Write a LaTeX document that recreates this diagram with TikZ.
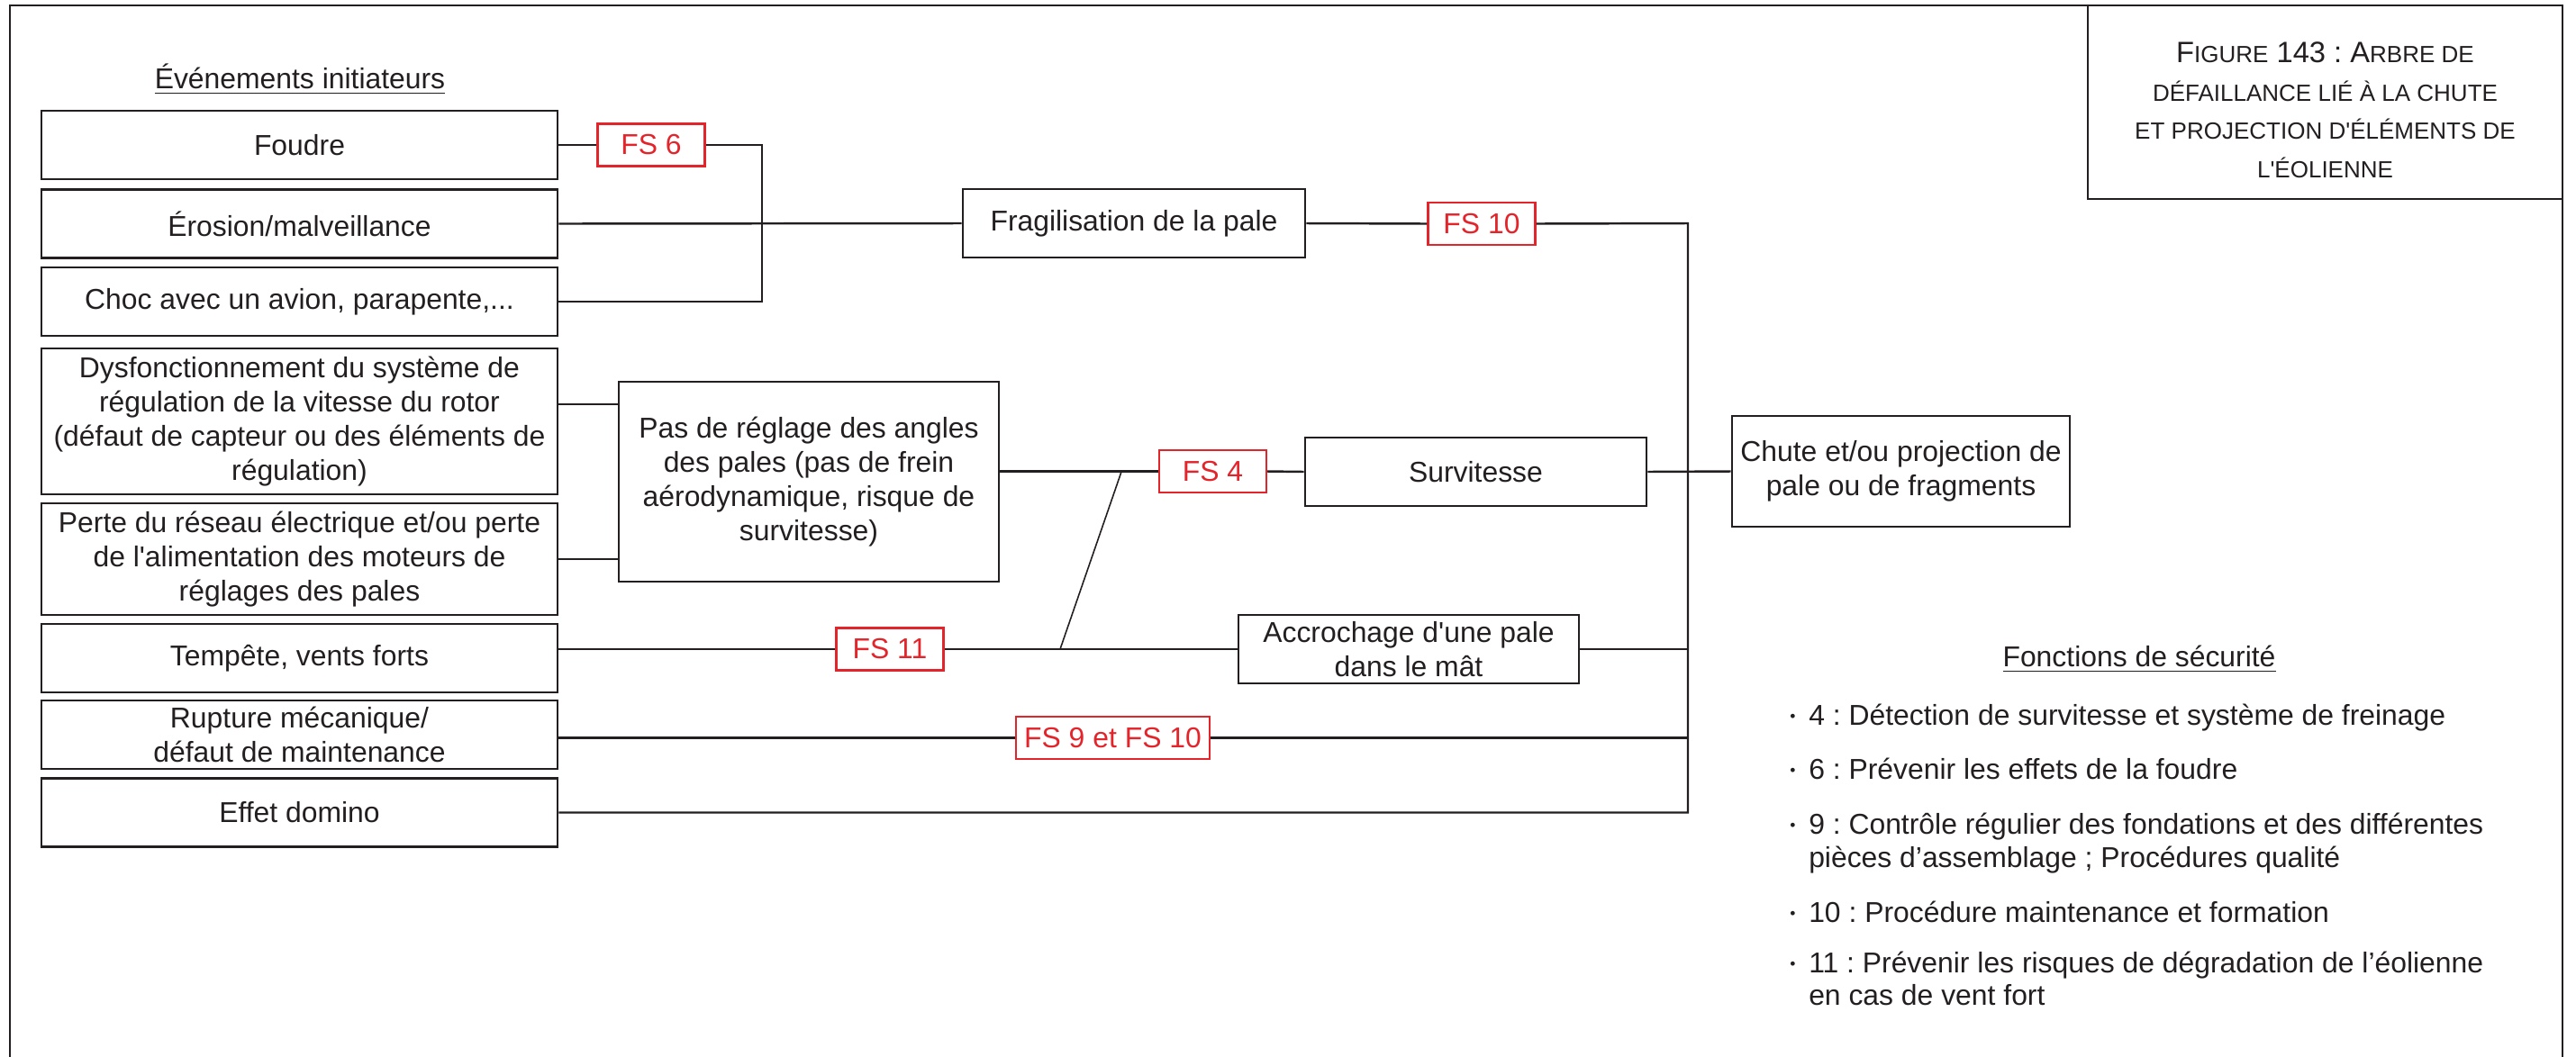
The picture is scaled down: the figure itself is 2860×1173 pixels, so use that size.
\documentclass[tikz,border=0pt]{standalone}
\usepackage{fontspec}
\setmainfont{Liberation Sans}
\usepackage{tikz}
\frenchspacing

\definecolor{encre}{HTML}{231F20}
\definecolor{rougefs}{HTML}{E3242B}
\newcommand{\apos}{\textquotesingle}
\newcommand{\petit}[1]{{\fontsize{7.4}{12.1}\selectfont #1}}
\newcommand{\puce}{\makebox[2.1mm][l]{\raisebox{0.9pt}{\fontsize{5}{5}\selectfont\textbullet}}}

\begin{document}
\begin{tikzpicture}[x=0.1mm,y=-0.1mm,color=encre,line width=0.7pt,
    font=\fontsize{9.07}{10.8}\selectfont,
    evt/.style={draw,line width=0.8pt,minimum width=57.3mm,minimum height=7.6mm,
      align=center,inner sep=0.4mm},
    etape/.style={draw,line width=0.8pt,align=center,inner sep=0.4mm},
    fs/.style={draw=rougefs,text=rougefs,line width=0.6pt,minimum width=11.9mm,
      minimum height=4.7mm,inner xsep=0.9mm,inner ysep=0mm},
    item/.style={anchor=base west,inner sep=0pt}]
            \useasboundingbox (0,0) rectangle (2860,1173);
            % cadre
            \draw[line width=0.6pt] (11,1200) -- (11,6) -- (2845,6) -- (2845,1200);
            \draw (2581.5,113.5) node[draw,minimum width=52.7mm,minimum height=21.5mm,
             align=center,font=\fontsize{9.3}{12.1}\selectfont] (titre)
             {\rule{0pt}{4mm}F\petit{IGURE} 143 : A\petit{RBRE DE}\\
              \petit{DÉFAILLANCE LIÉ À LA CHUTE}\\
              \petit{ET PROJECTION D\apos ÉLÉMENTS DE}\\
              \petit{L\apos ÉOLIENNE}};

            % evenements initiateurs
            \draw (333,98) node[anchor=base,inner sep=0pt] (initiateurs)
             {\underline{Événements initiateurs}};
            \draw (332.5,161) node[evt] (foudre) {Foudre};
            \draw (332.5,248.5) node[evt] (erosion) {Érosion/malveillance};
            \draw (332.5,335) node[evt] (choc) {Choc avec un avion, parapente,...};
            \draw (332.5,468) node[evt,minimum height=16.2mm] (dysf)
             {Dysfonctionnement du système de\\régulation de la vitesse du rotor\\
              (défaut de capteur ou des éléments de\\régulation)};
            \draw (332.5,621) node[evt,minimum height=12.4mm] (perte)
             {Perte du réseau électrique et/ou perte\\de l\apos alimentation des moteurs de\\
              réglages des pales};
            \draw (332.5,731) node[evt] (tempete) {Tempête, vents forts};
            \draw (332.5,816) node[evt] (rupture) {Rupture mécanique/\\défaut de maintenance};
            \draw (332.5,902.5) node[evt] (domino) {Effet domino};

            % evenements intermediaires
            \draw (1259,248) node[etape,minimum width=38mm,minimum height=7.6mm] (fragil)
             {Fragilisation de la pale};
            \draw (898,535) node[etape,minimum width=42.2mm,minimum height=22.2mm] (pas)
             {Pas de réglage des angles\\des pales (pas de frein\\aérodynamique, risque de\\survitesse)};
            \draw (1638.5,524) node[etape,minimum width=37.9mm,minimum height=7.6mm] (survit)
             {Survitesse};
            \draw (1564,721) node[etape,minimum width=37.8mm,minimum height=7.6mm] (accro)
             {Accrochage d\apos une pale\\dans le mât};
            \draw (2110.5,523.5) node[etape,minimum width=37.5mm,minimum height=12.3mm] (chute)
             {Chute et/ou projection de\\pale ou de fragments};

            % fonctions de securite
            \draw (723,161) node[fs] (fssix) {FS 6};
            \draw (1645,248.5) node[fs] (fsdix) {FS 10};
            \draw (1346.5,523.5) node[fs] (fsquatre) {FS 4};
            \draw (988,721) node[fs] (fsonze) {FS 11};
            \draw (1235.5,819.5) node[fs] (fsneuf) {FS 9 et FS 10};

            % liaisons
            \coordinate (jfoudre) at (846,161);
            \coordinate (bus) at (1874,248);
            \coordinate (jpas) at (1245,524);
            \coordinate (jtempete) at (1177,721);
            \coordinate (jdysf) at (619,449);
            \draw (foudre.east) -- (fssix.west);
            \draw (fssix.east) -- (jfoudre) |- (choc.east);
            \draw (erosion.east) -- (fragil.west);
            \draw (fragil.east) -- (fsdix.west);
            \draw (fsdix.east) -- (bus) -- (bus |- domino.east) -- (domino.east);
            \draw (jdysf) -- (jdysf -| pas.west);
            \draw (perte.east) -- (perte.east -| pas.west);
            \draw (pas.east |- fsquatre.west) -- (fsquatre.west);
            \draw (fsquatre.east) -- (survit.west);
            \draw (survit.east) -- (chute.west);
            \draw (tempete.east |- fsonze.west) -- (fsonze.west);
            \draw (fsonze.east) -- (accro.west);
            \draw[line width=0.45pt] (jpas) -- (jtempete);
            \draw (accro.east) -- (accro.east -| bus);
            \draw (rupture.east |- fsneuf.west) -- (fsneuf.west);
            \draw (fsneuf.east) -- (fsneuf.east -| bus);

            % legende
            \draw (2375,740) node[anchor=base,inner sep=0pt] (fonctions)
             {\underline{Fonctions de sécurité}};
            \draw (1986,805) node[item] (leg4)
             {\puce 4 : Détection de survitesse et système de freinage};
            \draw (1986,865) node[item] (leg6)
             {\puce 6 : Prévenir les effets de la foudre};
            \draw (1986,926) node[item] (leg9)
             {\puce 9 : Contrôle régulier des fondations et des différentes};
            \draw (2007,963) node[item] (leg9b)
             {pièces d’assemblage ; Procédures qualité};
            \draw (1986,1024) node[item] (leg10)
             {\puce 10 : Procédure maintenance et formation};
            \draw (1986,1080) node[item] (leg11)
             {\puce 11 : Prévenir les risques de dégradation de l’éolienne};
            \draw (2007,1116) node[item] (leg11b)
             {en cas de vent fort};
            \end{tikzpicture}
\end{document}
